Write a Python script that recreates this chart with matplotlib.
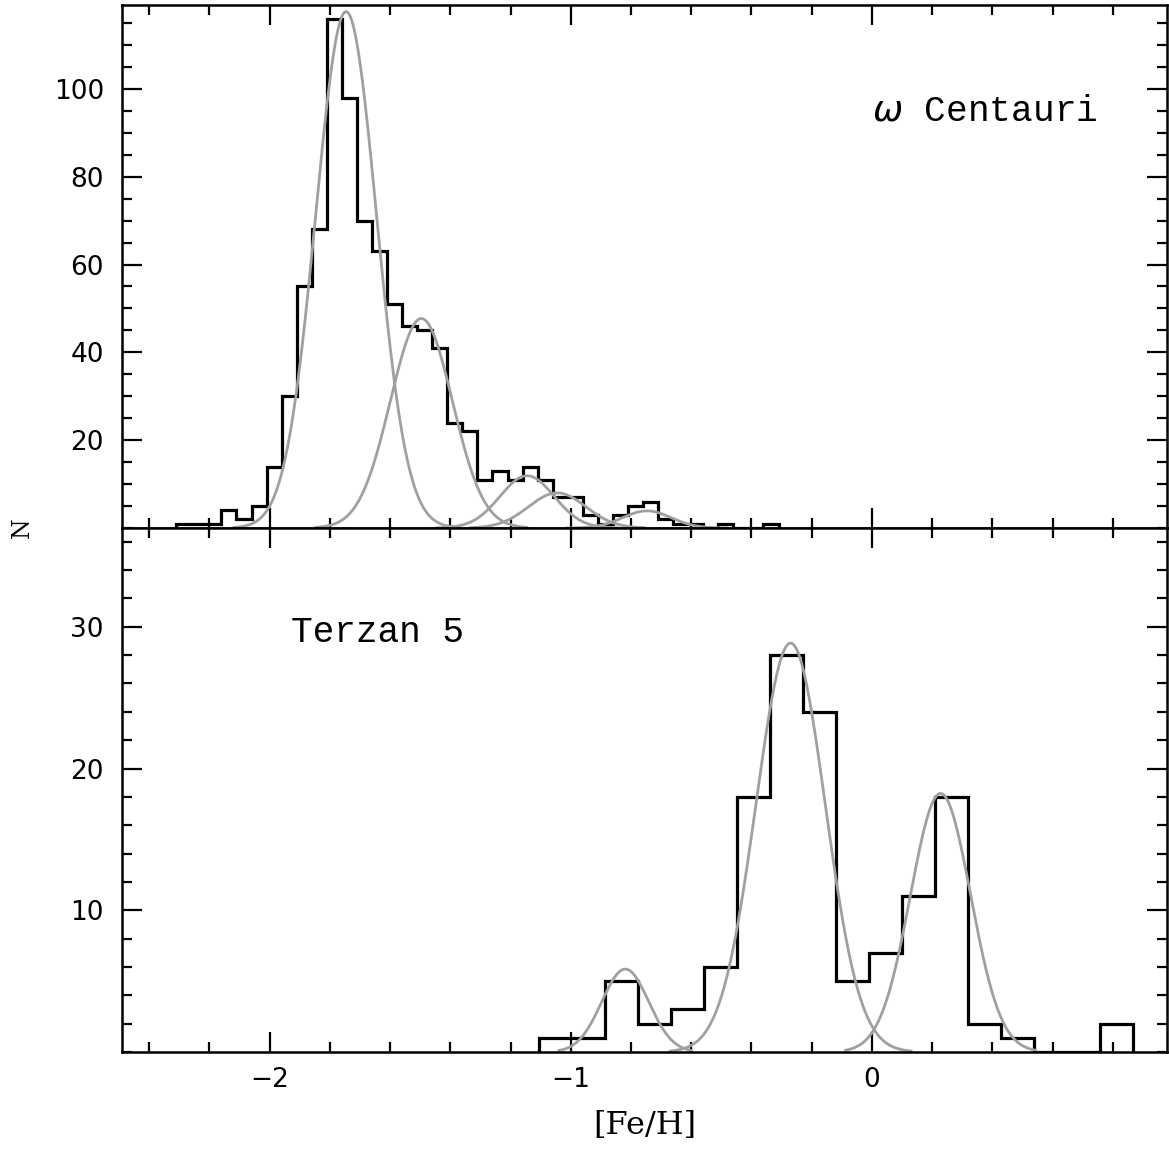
import numpy as np
import matplotlib
matplotlib.use("Agg")
from matplotlib import pyplot as plt
from matplotlib.ticker import MultipleLocator

# omega Cen: histograma [Fe/H], bins de 0.05
oc_inicio = -2.31
oc_ancho = 0.05
oc_cuentas = [1, 1, 1, 4, 2, 5, 14, 30, 55, 68, 116, 98, 70, 63, 51, 46, 45, 41, 24, 22,
              11, 13, 11, 14, 11, 7, 7, 3, 1, 3, 5, 6, 2, 1, 1, 0, 1, 0, 0, 1]
# gaussianas: centro, amplitud, sigma, semi-rango dibujado
oc_mu = [-1.746, -1.496, -1.145, -1.045, -0.747]
oc_amp = [117.6, 47.7, 11.9, 8.0, 3.9]
oc_sig = [0.101, 0.103, 0.09, 0.095, 0.08]
oc_rango = [0.372, 0.35, 0.30, 0.29, 0.265]

# Terzan 5: bins de 0.11
tz_inicio = -1.107
tz_ancho = 0.1096
tz_cuentas = [1, 1, 5, 2, 3, 6, 18, 28, 24, 5, 7, 11, 18, 2, 1, 0, 0, 2]
tz_mu = [-0.819, -0.270, 0.228]
tz_amp = [5.85, 28.85, 18.24]
tz_sig = [0.078, 0.115, 0.10]
tz_rango = [0.22, 0.40, 0.315]

GRIS = '#a0a0a0'


def histo(ax, inicio, ancho, cuentas):
    bordes = inicio + ancho * np.arange(len(cuentas) + 1)
    ax.stairs(cuentas, bordes, color='black', linewidth=2.3, baseline=0)


def gaussianas(ax, mus, amps, sigs, rangos):
    for mu, a, s, r in zip(mus, amps, sigs, rangos):
        x = np.linspace(mu - r, mu + r, 200)
        ax.plot(x, a * np.exp(-0.5 * ((x - mu) / s) ** 2), color=GRIS, linewidth=2.0)


def estilo(ax, ymenor):
    ax.set_xlim(-2.49, 0.98)
    ax.xaxis.set_major_locator(MultipleLocator(1))
    ax.xaxis.set_minor_locator(MultipleLocator(0.2))
    ax.yaxis.set_minor_locator(MultipleLocator(ymenor))
    ax.tick_params(which='both', direction='in', top=True, right=True, width=1.6)
    ax.tick_params(which='major', length=14.5)
    ax.tick_params(which='minor', length=7.2)
    ax.tick_params(axis='y', labelsize=19, pad=13)
    ax.tick_params(axis='x', labelsize=19, pad=11)
    for s in ax.spines.values():
        s.set_linewidth(1.8)


fig = plt.figure(figsize=(11.69, 11.51), dpi=100)
ax1 = fig.add_axes([0.1044, 0.54127, 0.8939, 0.45439])
ax2 = fig.add_axes([0.1044, 0.08601, 0.8939, 0.45526])

histo(ax1, oc_inicio, oc_ancho, oc_cuentas)
gaussianas(ax1, oc_mu, oc_amp, oc_sig, oc_rango)
estilo(ax1, 5)
ax1.set_ylim(0, 119.1)
ax1.set_yticks([20, 40, 60, 80, 100])
ax1.tick_params(axis='x', labelbottom=False)
ax1.text(0.0, 95, r'$\omega$ Centauri', ha='left', va='center', fontsize=26, family='Liberation Mono')

histo(ax2, tz_inicio, tz_ancho, tz_cuentas)
gaussianas(ax2, tz_mu, tz_amp, tz_sig, tz_rango)
estilo(ax2, 2)
ax2.set_ylim(0, 36.97)
ax2.set_yticks([10, 20, 30])
ax2.set_xticks([-2, -1, 0])
ax2.set_xticklabels(['\u22122', '\u22121', '0'])
ax2.text(-1.93, 29.6, 'Terzan 5', ha='left', va='center', fontsize=26, family='Liberation Mono')
ax2.set_xlabel('[Fe/H]', fontsize=23, family='DejaVu Serif', labelpad=12)

fig.text(0.019, 0.5413, 'N', rotation=90, ha='center', va='center', fontsize=17, family='DejaVu Serif')

fig.savefig('out.png', dpi=100)
